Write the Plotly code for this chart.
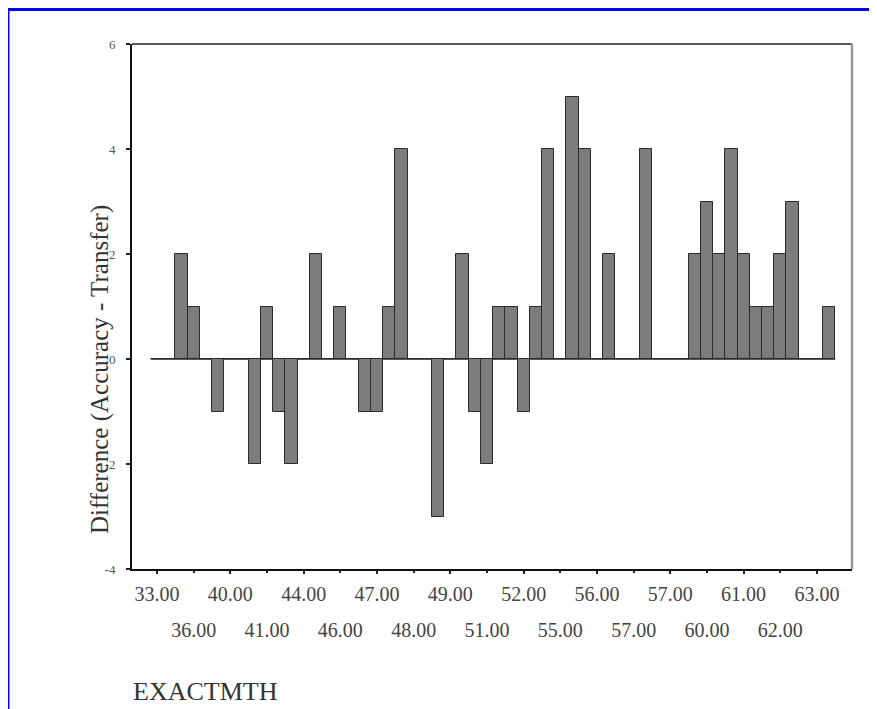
import plotly.graph_objects as go

# Difference (Accuracy - Transfer) for each case, ordered by EXACTMTH
values = [0, 0, 2, 1, 0, -1, 0, 0, -2, 1,
          -1, -2, 0, 2, 0, 1, 0, -1, -1, 1,
          4, 0, 0, -3, 0, 2, -1, -2, 1, 1,
          -1, 1, 4, 0, 5, 4, 0, 2, 0, 0,
          4, 0, 0, 0, 2, 3, 2, 4, 2, 1,
          1, 2, 3, 0, 0, 1]
cases = list(range(len(values)))

# tick labels (every third case), alternating on two rows
row1_labels = ["33.00", "40.00", "44.00", "47.00", "49.00",
               "52.00", "56.00", "57.00", "61.00", "63.00"]
row2_labels = ["36.00", "41.00", "46.00", "48.00", "51.00",
               "55.00", "57.00", "60.00", "62.00"]
row1_pos = [6 * i for i in range(len(row1_labels))]
row2_pos = [6 * i + 3 for i in range(len(row2_labels))]

y_ticks = [-4, -2, 0, 2, 4, 6]
y_ticktext = ["-4", "-2", "0", "2", "4", "6"]

FONT = "Liberation Serif"
OFF = 8  # page body margin of the html page
W, H = 877 - OFF, 709 - OFF
# plot area in page pixels: left 132, right 852, top 44, bottom 569
L, T = 132 - OFF, 44 - OFF
R = W - (852 - OFF)
B = H - (569 - OFF)
pw, ph = W - L - R, H - T - B


def px_x(p):
    return (p - OFF - L) / pw


def px_y(p):
    return (H - B - (p - OFF)) / ph


fig = go.Figure()
fig.add_trace(go.Bar(
    x=cases, y=values, width=1.0,
    marker=dict(color="#7c7c7c", line=dict(color="#2a2a2a", width=1)),
    showlegend=False, hoverinfo="x+y",
))
# invisible trace on second x-axis so it renders
fig.add_trace(go.Scatter(x=[cases[0]], y=[0], xaxis="x2", mode="markers",
                         marker=dict(opacity=0), showlegend=False,
                         hoverinfo="skip"))

xr = [-2.05, 56.87]
fig.update_layout(
    width=W, height=H,
    margin=dict(l=L, r=R, t=T, b=B),
    paper_bgcolor="white", plot_bgcolor="white",
    font=dict(family=FONT, color="#333333"),
    bargap=0,
    xaxis=dict(
        range=xr, tickmode="array", tickvals=row1_pos, ticktext=row1_labels,
        ticks="outside", ticklen=3, tickwidth=2, tickcolor="#222",
        showline=True, linecolor="#111", linewidth=2,
        showgrid=False, zeroline=False, automargin=False,
        tickfont=dict(family=FONT, size=20, color="#444"),
        ticklabelstandoff=3,
    ),
    xaxis2=dict(
        range=xr, overlaying="x", side="bottom", anchor="y",
        tickmode="array", tickvals=row2_pos, ticktext=row2_labels,
        ticks="outside", ticklen=3, tickwidth=2, tickcolor="#222",
        showline=False, showgrid=False, zeroline=False, automargin=False,
        tickfont=dict(family=FONT, size=20, color="#444"),
        ticklabelstandoff=40,
    ),
    yaxis=dict(
        range=[-4, 6], tickmode="array", tickvals=y_ticks, ticktext=y_ticktext,
        ticks="outside", ticklen=4, tickwidth=2, tickcolor="#222",
        showline=True, linecolor="#111", linewidth=2,
        showgrid=False, zeroline=False, automargin=False,
        tickfont=dict(family=FONT, size=13, color="#555"),
        ticklabelstandoff=8,
    ),
    shapes=[
        # zero reference line across the bars
        dict(type="line", xref="x", yref="y", x0=cases[0] - 0.5, x1=cases[-1] + 0.5,
             y0=0, y1=0, line=dict(color="#222", width=1.5), layer="below"),
        # top and right frame
        dict(type="line", xref="paper", yref="paper", x0=0, x1=1, y0=1, y1=1,
             line=dict(color="#555", width=2)),
        dict(type="line", xref="paper", yref="paper", x0=1, x1=1, y0=0, y1=1,
             line=dict(color="#999", width=2.5)),
        # blue border of the page
        dict(type="line", xref="paper", yref="paper", x0=px_x(8), x1=px_x(900),
             y0=px_y(9.5), y1=px_y(9.5), line=dict(color="#0000ff", width=3)),
        dict(type="line", xref="paper", yref="paper", x0=px_x(8), x1=px_x(8),
             y0=px_y(9.5), y1=px_y(730), line=dict(color="#0000ff", width=3)),
    ],
    annotations=[
        dict(text="Difference (Accuracy - Transfer)", xref="paper", yref="paper",
             x=px_x(100), y=px_y(370), textangle=-90, showarrow=False,
             xanchor="center", yanchor="middle",
             font=dict(family=FONT, size=25, color="#333")),
        dict(text="EXACTMTH", xref="paper", yref="paper",
             x=px_x(131), y=px_y(691), showarrow=False,
             xanchor="left", yanchor="middle",
             font=dict(family=FONT, size=26, color="#333")),
    ],
)

fig.write_html("out.html")
